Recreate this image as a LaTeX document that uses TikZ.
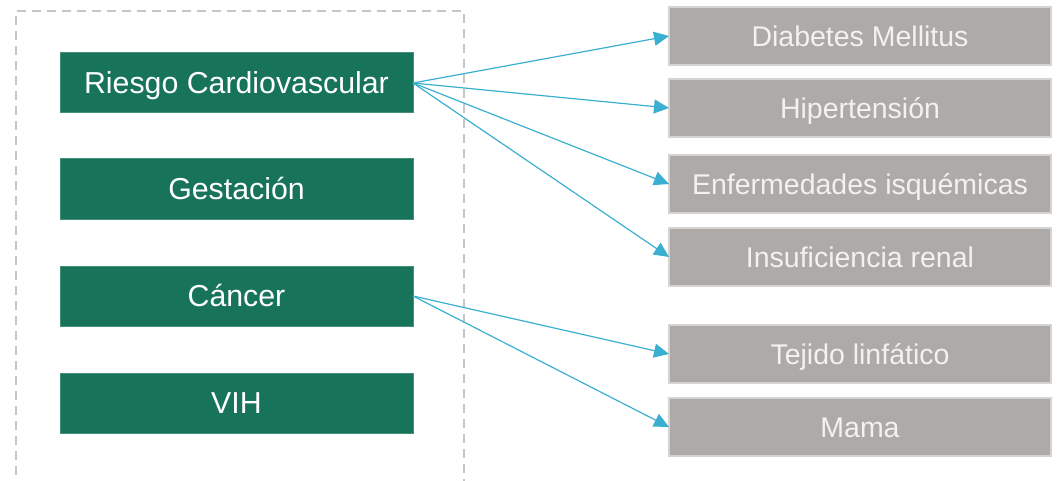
\documentclass[tikz,border=0pt]{standalone}
\usepackage{fontspec}
\setmainfont{Liberation Sans}
\usetikzlibrary{arrows.meta}
\definecolor{boxgreen}{HTML}{17745A}
\definecolor{boxgrey}{HTML}{ADAAA8}
\definecolor{greyedge}{HTML}{D6D4D2}
\definecolor{arrowblue}{HTML}{3AAFD0}
\definecolor{dashgrey}{HTML}{C6C6C6}
\tikzset{
  greenbox/.style={fill=boxgreen, draw=boxgreen!80!white, line width=1pt, text=white,
    minimum width=353pt, minimum height=60pt, inner sep=0pt, outer sep=0pt,
    text height=21.7pt, text depth=0pt,
    font=\fontsize{30.3}{36}\selectfont},
  greybox/.style={fill=boxgrey, draw=greyedge, line width=1.5pt, text=white!95!black,
    minimum width=382pt, minimum height=58pt, inner sep=0pt, outer sep=0pt,
    text height=20.4pt, text depth=0pt,
    font=\fontsize{28.5}{34}\selectfont},
  link/.style={draw=arrowblue, line width=1.2pt,
    -{Triangle[length=15pt, width=14pt]}},
  frame/.style={draw=dashgrey, line width=2pt, dash pattern=on 9pt off 6pt}
}
\begin{document}
\begin{tikzpicture}[x=1pt, y=-1pt]
\useasboundingbox (0,0) rectangle (1057,481);
\coordinate (fbl) at (16,490);
\coordinate (ftl) at (16,11);
\coordinate (ftr) at (464,11);
\coordinate (fbr) at (464,490);
\draw[frame] (fbl) -- (ftl) -- (ftr) -- (fbr);

\node[greenbox] (rc) at (236.5,83) {Riesgo Cardiovascular};
\node[greenbox] (ge) at (236.5,189) {Gestación};
\node[greenbox] (ca) at (236.5,296) {Cáncer};
\node[greenbox] (vih) at (236.5,403) {VIH};

\node[greybox] (dm) at (860,36) {Diabetes Mellitus};
\node[greybox] (hi) at (860,108) {Hipertensión};
\node[greybox] (ei) at (860,184) {Enfermedades isquémicas};
\node[greybox] (ir) at (860,257) {Insuficiencia renal};
\node[greybox] (tl) at (860,354) {Tejido linfático};
\node[greybox] (ma) at (860,427) {Mama};

\draw[link] (rc.east) -- (dm.west);
\draw[link] (rc.east) -- (hi.west);
\draw[link] (rc.east) -- (ei.west);
\draw[link] (rc.east) -- (ir.west);
\draw[link] (ca.east) -- (tl.west);
\draw[link] (ca.east) -- (ma.west);
\end{tikzpicture}
\end{document}
